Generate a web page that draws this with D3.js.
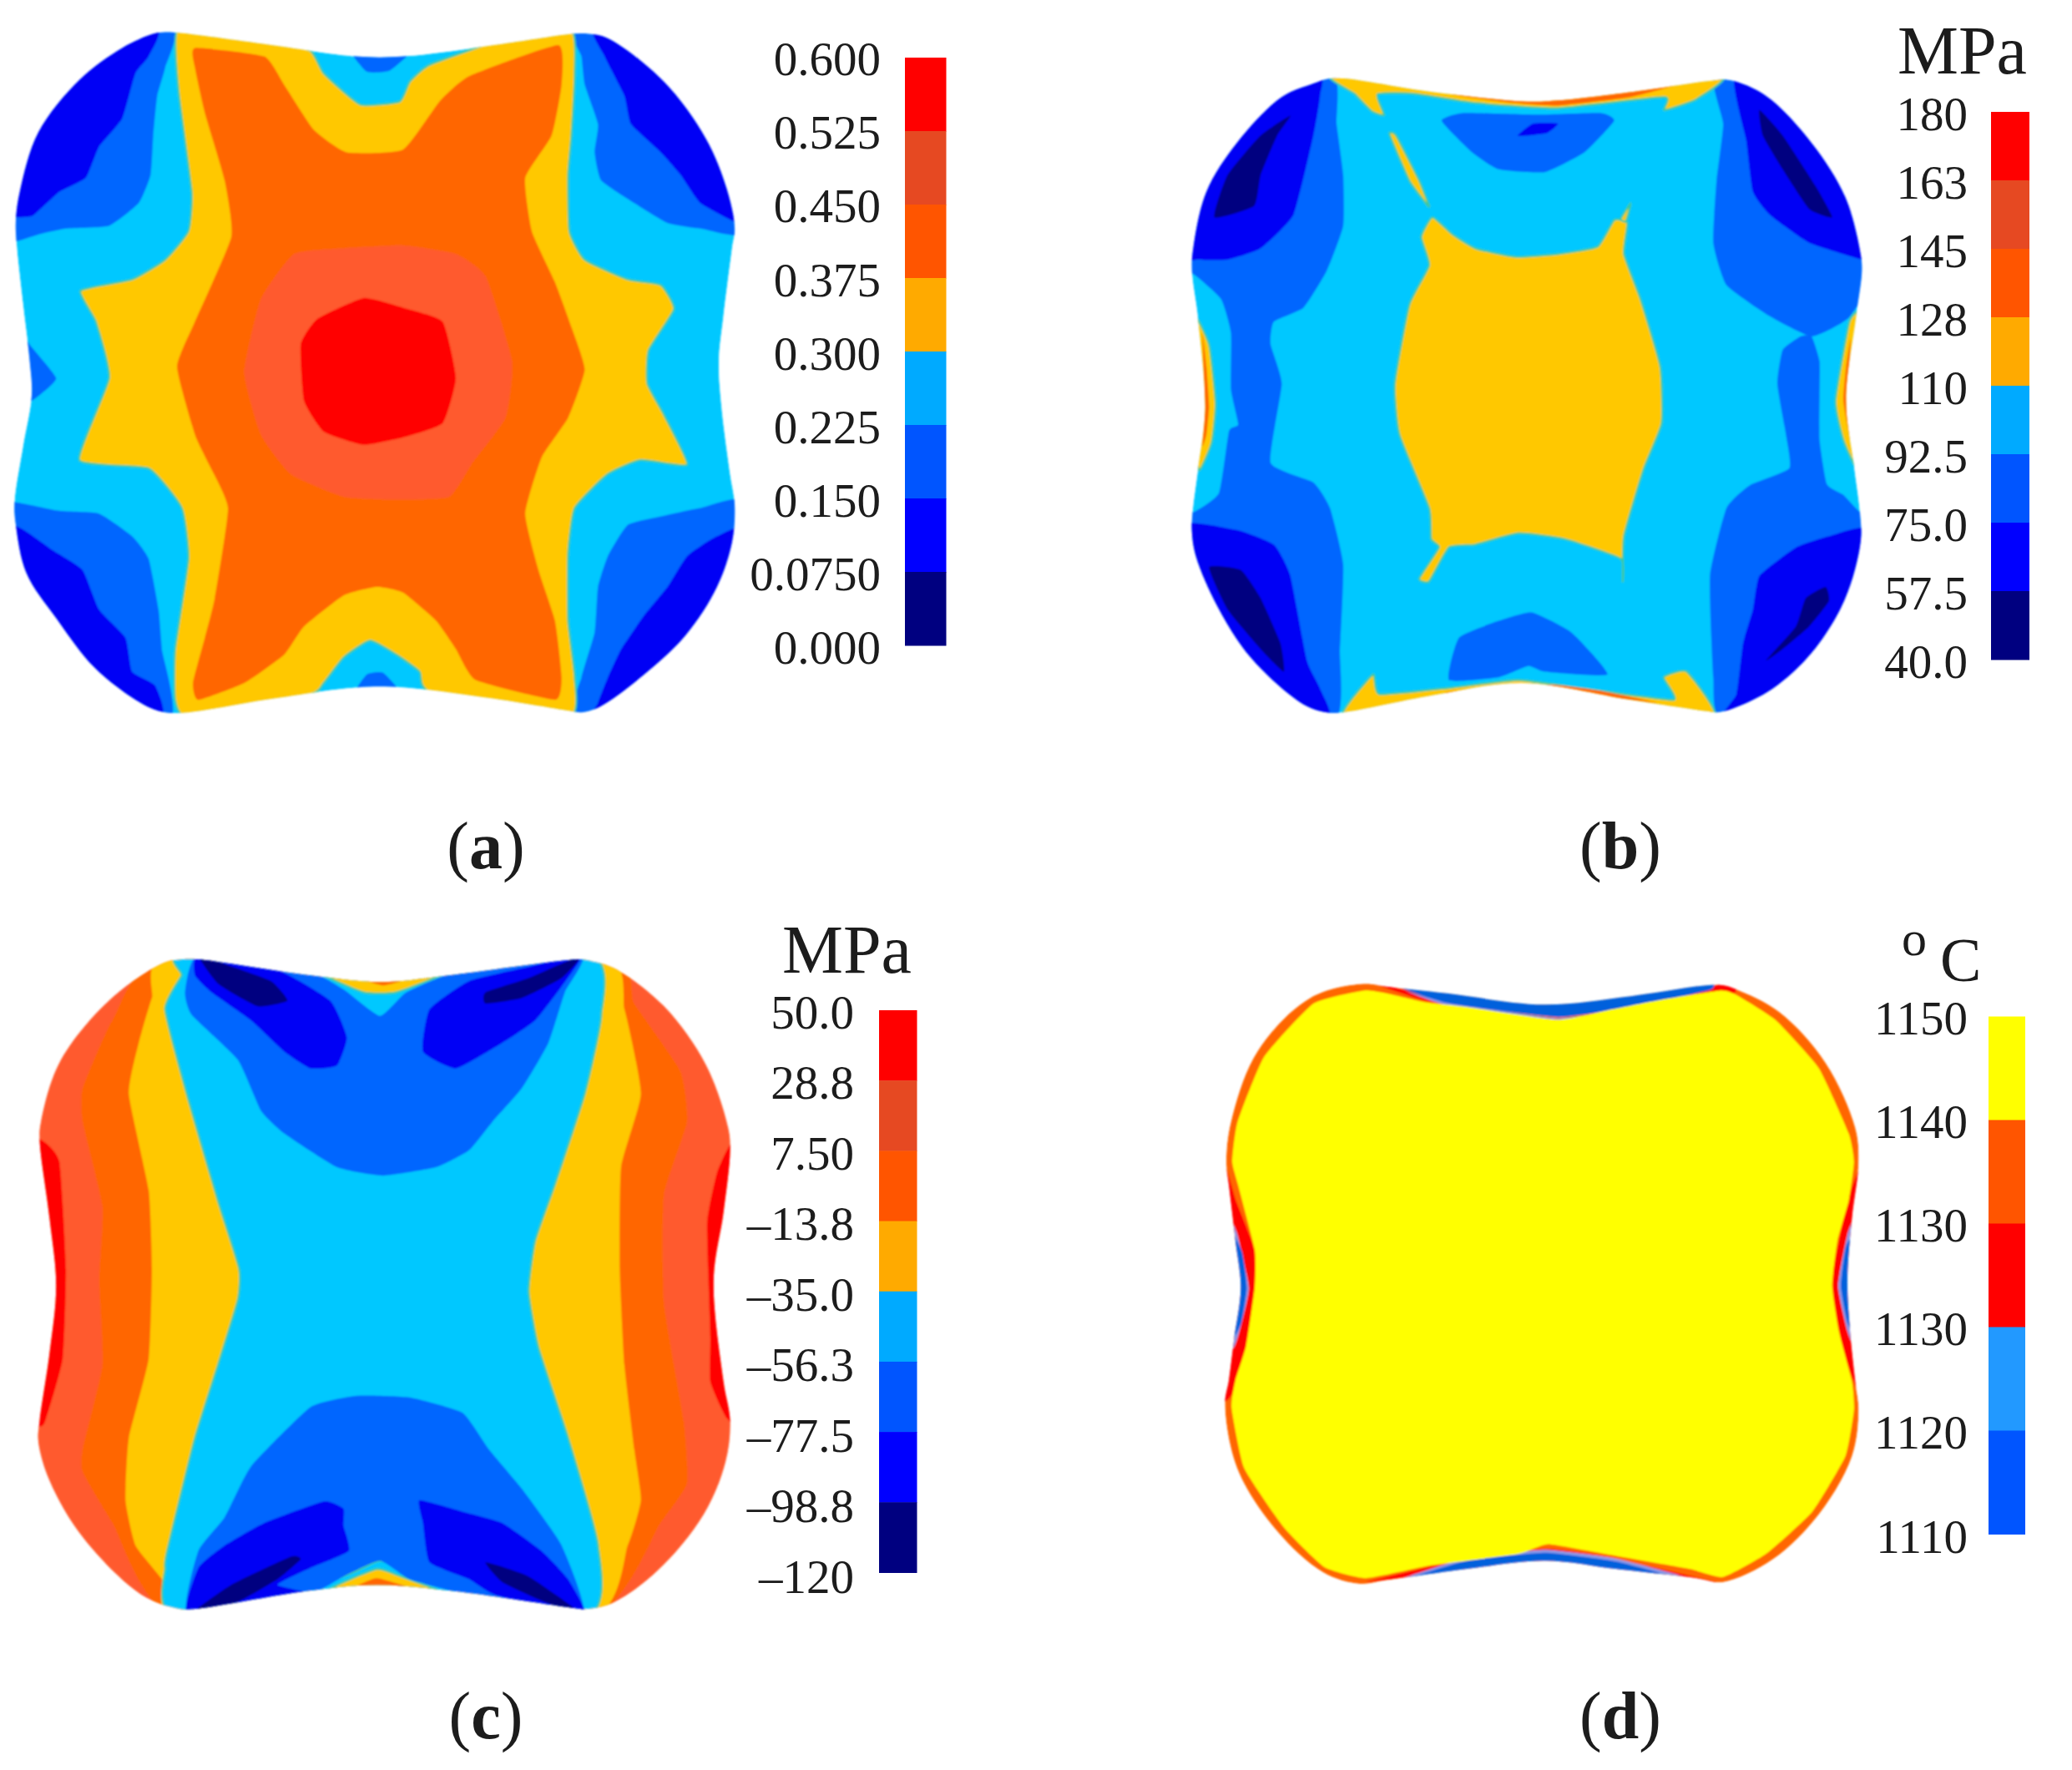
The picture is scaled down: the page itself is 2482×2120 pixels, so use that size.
<!DOCTYPE html>
<html><head><meta charset="utf-8">
<style>html,body{margin:0;background:#fff}svg{display:block}text{font-family:"Liberation Serif",serif;fill:#1c1c1c}</style>
<script src="https://cdn.jsdelivr.net/npm/d3@7"></script></head><body><script>
// ---- legend data
const ticksA=["0.600","0.525","0.450","0.375","0.300","0.225","0.150","0.0750","0.000"];
const ticksB=["180","163","145","128","110","92.5","75.0","57.5","40.0"];
const ticksC=["50.0","28.8","7.50","–13.8","–35.0","–56.3","–77.5","–98.8","–120"];
const ticksD=["1150","1140","1130","1130","1120","1110"];
const legendColours=["#FF0000","#E64A22","#FF5500","#FFAA00","#00AAFF","#0055FF","#0000FF","#000080"];
const legendColoursD=["#FFFF00","#FF5500","#FF0000","#2299FF","#0055FF"];
// ---- contour bands, by name
const Band={cyan:"#00C8FF",yellow:"#FFC800",orange:"#FF6600",light:"#FF5A2D",red:"#FF0000",mid:"#0066FF",deep:"#0000F5",navy:"#000080",bright:"#FFFF00",steel:"#0060DC",pale:"#8C9AE8"};

// ---- panel (a) mesh contours
const aOutline=[[250,57],[270,58],[400,78],[540,100],[610,100],[760,78],[868,60],[890,60],[920,68],[1005,145],[1068,245],[1100,335],[1112,405],[1108,440],[1095,560],[1088,640],[1092,720],[1105,840],[1112,895],[1108,960],[1085,1040],[1038,1125],[975,1195],[908,1252],[880,1262],[865,1260],[760,1240],[610,1218],[540,1218],[400,1240],[285,1262],[250,1262],[220,1250],[145,1185],[85,1095],[40,1015],[24,930],[22,890],[35,790],[48,700],[45,640],[35,540],[25,430],[24,390],[30,340],[58,235],[120,142],[185,85],[232,60]];
const aMidTL=[[-20,430],[24,428],[60,415],[100,405],[165,400],[210,360],[228,310],[232,240],[238,170],[250,120],[258,40],[-20,-20]];
const aDeepTL=[[-20,385],[25,385],[50,382],[90,340],[130,315],[150,260],[185,210],[205,130],[225,100],[235,40],[-20,-20]];
const aMidTR=[[870,40],[880,100],[885,150],[905,220],[900,270],[910,320],[960,360],[1010,395],[1060,405],[1140,405],[1140,40]];
const aDeepTR=[[900,40],[915,100],[945,170],[955,220],[1000,270],[1030,310],[1060,360],[1115,395],[1140,395],[1140,40]];
const aMidBR=[[1140,895],[1060,900],[1000,915],[950,930],[920,985],[905,1040],[900,1120],[880,1200],[872,1280],[1140,1280]];
const aDeepBR=[[1140,940],[1085,950],[1040,985],[1010,1040],[975,1090],[940,1150],[920,1200],[905,1245],[900,1280],[1140,1280]];
const aMidBL=[[-20,890],[25,890],[90,905],[150,910],[200,950],[225,990],[240,1080],[245,1150],[255,1280],[-20,1280]];
const aDeepBL=[[-20,930],[30,935],[80,975],[125,1010],[150,1080],[190,1130],[200,1190],[235,1215],[240,1280],[-20,1280]];
const aMidL=[[30,590],[48,615],[85,670],[60,700],[40,715],[20,700]];
const aMidTop=[[530,85],[555,127],[590,125],[625,85]];
const aMidBot=[[535,1235],[555,1195],[580,1192],[610,1235]];
const aYellow=[[270,50],[400,70],[470,90],[490,130],[545,185],[605,180],[620,145],[650,115],[760,70],[865,55],[870,130],[865,240],[860,310],[862,410],[885,460],[950,495],[1000,505],[1020,548],[982,620],[980,680],[1005,735],[1040,823],[970,815],[920,840],[870,900],[860,980],[860,1100],[870,1200],[862,1270],[650,1225],[635,1190],[600,1160],[560,1135],[520,1165],[490,1210],[470,1230],[285,1270],[265,1240],[265,1150],[285,990],[275,900],[225,830],[120,815],[165,670],[145,570],[122,515],[200,495],[250,460],[285,410],[290,340],[270,160]];
const aOrange=[[295,85],[400,100],[430,150],[475,230],[525,270],[610,265],[665,180],[710,135],[845,80],[850,150],[835,240],[795,315],[805,410],[840,500],[865,580],[885,655],[860,740],[820,810],[795,910],[815,1010],[840,1100],[850,1200],[840,1240],[720,1205],[690,1150],[660,1100],[610,1050],[570,1040],[520,1055],[460,1110],[430,1160],[370,1210],[300,1240],[292,1210],[310,1130],[325,1060],[345,900],[315,820],[295,770],[268,650],[295,570],[350,420],[340,320],[310,200],[295,120]];
const aLight=[[445,450],[520,440],[610,435],[690,450],[735,490],[775,640],[765,740],[715,820],[680,880],[600,885],[520,880],[440,840],[395,770],[370,660],[395,530]];
const aRed=[[550,528],[610,545],[670,570],[690,670],[670,750],[610,775],[550,788],[490,765],[460,710],[455,610],[480,565]];

// ---- panel (b) mesh contours
const bOutline=[[440,140],[465,139],[600,163],[744,180],[790,178],[920,160],[1022,143],[1050,142],[1105,170],[1175,255],[1225,350],[1248,450],[1250,480],[1241,562],[1226,710],[1239,833],[1247,907],[1248,960],[1224,1062],[1175,1155],[1115,1220],[1055,1255],[1030,1262],[1015,1260],[900,1240],[735,1210],[600,1232],[465,1262],[440,1262],[405,1248],[325,1165],[275,1075],[242,985],[236,942],[237,907],[245,833],[256,725],[245,562],[236,480],[238,440],[258,340],[305,252],[372,172],[420,148]];
const bMidL=[[445,120],[455,220],[465,310],[465,400],[440,480],[405,545],[360,570],[355,610],[372,680],[355,820],[420,855],[445,900],[465,1000],[460,1150],[450,1280],[200,1280],[200,910],[239,907],[277,873],[292,764],[306,752],[295,690],[295,590],[280,530],[237,485],[200,480],[200,120]];
const bDeepTL=[[425,120],[430,170],[420,240],[390,380],[340,440],[290,460],[245,460],[200,450],[200,120]];
const bNavyTL=[[385,205],[365,240],[340,310],[330,365],[270,385],[290,310],[340,240]];
const bDeepBL=[[200,938],[300,938],[360,965],[385,1020],[410,1170],[430,1220],[440,1280],[200,1280]];
const bNavyBL=[[262,1005],[310,1010],[340,1060],[370,1140],[375,1190],[340,1150],[290,1080]];
const bMidTR=[[1030,120],[1040,220],[1030,320],[1025,430],[1045,505],[1110,560],[1174,596],[1231,562],[1270,470],[1270,120]];
const bMidBR=[[1157,596],[1130,620],[1122,680],[1135,770],[1140,830],[1080,860],[1045,900],[1020,1020],[1025,1200],[1040,1280],[1270,1280],[1270,907],[1247,907],[1222,877],[1197,858],[1186,780],[1186,700],[1186,640],[1174,596]];
const bDeepTR=[[1060,120],[1075,250],[1085,340],[1110,380],[1170,430],[1250,460],[1270,460],[1270,120]];
const bNavyTR=[[1095,195],[1130,240],[1180,330],[1205,385],[1170,370],[1130,300],[1100,240]];
const bDeepBR=[[1270,945],[1200,950],[1150,970],[1095,1020],[1085,1080],[1070,1140],[1060,1230],[1040,1280],[1270,1280]];
const bNavyBR=[[1195,1040],[1165,1060],[1150,1110],[1105,1170],[1130,1150],[1170,1110],[1200,1065]];
const bMidTop=[[614,214],[647,200],[760,203],[854,200],[875,214],[830,270],[770,305],[700,300],[660,270]];
const bDeepTop=[[729,241],[752,219],[790,219],[773,236]];
const bMidBot=[[625,1205],[640,1130],[700,1100],[750,1085],[810,1120],[865,1195],[770,1190],[745,1180],[700,1200]];
const bCentre=[[600,385],[630,415],[665,440],[725,455],[790,450],[850,437],[875,390],[895,395],[890,450],[915,530],[945,650],[947,750],[920,830],[890,950],[888,1030],[885,990],[800,955],[730,945],[665,965],[625,970],[595,1030],[580,1025],[610,970],[598,955],[595,900],[550,770],[543,680],[565,540],[595,470],[583,420]];
const bWedge=[[535,238],[545,240],[580,320],[595,365],[590,360],[565,320]];
const bSpur=[[885,388],[900,360],[893,392]];
const bStripTop=[[455,125],[483,167],[508,197],[527,204],[517,167],[571,166],[660,182],[786,192],[951,172],[951,195],[1001,175],[1030,125]];
const bSliverTop=[[597,158],[680,172],[744,178],[850,168],[976,148],[900,172],[790,187],[720,182],[640,170]];
const bStripBot=[[465,1275],[510,1195],[520,1230],[630,1218],[730,1205],[830,1220],[965,1240],[950,1200],[985,1190],[1025,1275],[735,1225]];
const bSliverBot=[[620,1228],[690,1215],[735,1210],[690,1222],[780,1213],[860,1225],[940,1245],[860,1235]];
const bStripL=[[235,553],[262,611],[272,715],[266,784],[247,833],[235,760]];
const bSliverL=[[252,590],[258,650],[262,720],[258,770],[252,790],[256,720]];
const bStripR=[[1250,553],[1231,570],[1210,710],[1222,780],[1245,833],[1255,710]];
const bSliverR=[[1233,600],[1226,650],[1222,710],[1232,780],[1228,710]];

// ---- panel (c) mesh contours
const cOutline=[[275,132],[300,132],[470,160],[580,172],[680,160],[880,132],[895,135],[930,148],[1005,215],[1068,318],[1102,430],[1105,470],[1095,580],[1080,700],[1095,880],[1105,950],[1098,1022],[1065,1115],[995,1215],[925,1273],[885,1283],[875,1282],[680,1250],[570,1240],[470,1250],[290,1283],[270,1282],[215,1258],[125,1155],[75,1055],[58,985],[60,950],[75,830],[85,710],[75,590],[60,450],[62,420],[90,315],[165,205],[248,138]];
const cBase=[[-20,100],[1140,100],[1140,1300],[-20,1300]];
const cRedL=[[-20,440],[60,450],[90,490],[100,680],[95,840],[70,945],[60,960],[-20,960]];
const cRedR=[[1130,455],[1105,460],[1085,510],[1070,600],[1075,800],[1075,880],[1100,945],[1130,950]];
const cOrange=[[258,120],[170,240],[125,360],[125,420],[155,570],[150,700],[155,850],[125,1000],[125,1040],[170,1130],[270,1300],[890,1300],[1000,1130],[1040,1060],[1035,950],[1005,740],[1005,550],[1040,420],[1030,330],[960,210],[915,120]];
const cYellow=[[262,120],[230,200],[210,280],[195,370],[225,540],[230,680],[225,840],[195,980],[190,1090],[205,1170],[245,1230],[275,1300],[890,1300],[950,1170],[970,1090],[960,1000],[945,850],[938,680],[940,500],[970,370],[945,220],[905,120]];
const cCyan=[[285,120],[275,160],[250,220],[285,380],[330,560],[362,680],[360,735],[330,850],[295,980],[255,1170],[250,1210],[275,1300],[880,1300],[905,1170],[860,980],[815,820],[800,720],[810,630],[840,530],[885,370],[910,230],[885,120]];
const cYellowTop=[[480,150],[550,190],[600,190],[680,150]];
const cRedTop=[[545,165],[580,178],[620,165]];
const cYellowBot=[[500,1250],[570,1212],[600,1222],[680,1260]];
const cOrangeBot=[[530,1250],[570,1228],[630,1250]];
const cCyanBot=[[470,1255],[540,1215],[575,1197],[620,1215],[690,1258]];
const cMidTop=[[300,125],[470,155],[520,185],[575,232],[615,190],[690,155],[880,125],[855,190],[830,280],[790,360],[745,420],[710,470],[660,500],[580,515],[510,500],[430,440],[395,400],[360,310],[290,230],[280,190]];
const cDeepTL=[[300,125],[420,150],[500,205],[525,270],[510,320],[470,325],[430,295],[380,240],[320,190],[295,160]];
const cNavyTL=[[300,125],[340,140],[410,170],[435,205],[390,215],[330,175]];
const cDeepTR=[[880,125],[850,180],[810,240],[760,280],[690,325],[640,295],[650,220],[710,170],[800,145]];
const cNavyTR=[[880,125],[800,165],[735,190],[735,210],[790,200],[850,165]];
const cMidBot=[[285,1295],[300,1180],[340,1120],[380,1030],[470,925],[540,905],[620,908],[700,935],[740,1000],[790,1070],[850,1170],[882,1295],[700,1255],[620,1230],[575,1197],[520,1225],[470,1255]];
const cDeepBL=[[285,1295],[300,1210],[340,1170],[400,1130],[490,1092],[520,1105],[520,1135],[528,1180],[470,1210],[420,1240],[470,1258]];
const cNavyBL=[[285,1295],[350,1240],[440,1190],[455,1195],[420,1230],[360,1270]];
const cDeepBR=[[885,1295],[860,1230],[820,1180],[760,1130],[700,1110],[635,1090],[640,1130],[650,1200],[710,1230],[750,1258]];
const cNavyBR=[[885,1295],[800,1225],[735,1200],[760,1235],[820,1268]];

// ---- panel (d) mesh contours
const dOutline=[[496,175],[530,180],[622,192],[769,212],[900,197],[1035,177],[1060,185],[1125,225],[1195,315],[1240,430],[1245,490],[1235,590],[1228,700],[1232,790],[1240,880],[1245,930],[1235,1012],[1185,1115],[1115,1195],[1040,1235],[1000,1228],[880,1212],[770,1197],[650,1212],[530,1232],[490,1238],[435,1218],[365,1145],[305,1035],[286,921],[292,877],[300,803],[310,714],[302,631],[292,532],[288,490],[295,420],[335,295],[415,200]];
const dRedTop=[[500,170],[590,195],[790,240],[960,205],[1050,170],[1050,195],[790,245],[590,205]];
const dRedBot=[[500,1235],[610,1205],[770,1176],[860,1190],[1030,1235],[860,1212],[770,1198],[610,1218]];
const dRedL=[[280,490],[303,560],[331,646],[331,714],[318,817],[298,900],[280,900]];
const dRedR=[[1250,490],[1228,560],[1207,680],[1207,730],[1222,830],[1245,900],[1260,900],[1260,490]];
const dPaleTop=[[560,188],[622,207],[790,236],[900,218],[1000,190],[900,223],[790,239],[622,213]];
const dBlueTop=[[530,172],[622,185],[769,205],[900,190],[1020,170],[1020,186],[900,216],[790,234],[622,209]];
const dPaleBot=[[540,1235],[650,1193],[770,1178],[880,1194],[1000,1232],[880,1214],[770,1196],[650,1212]];
const dBlueBot=[[530,1242],[650,1198],[770,1183],[880,1199],[1000,1238],[880,1225],[770,1208],[650,1225]];
const dPaleL=[[292,590],[305,620],[322,714],[308,790],[298,820],[290,714]];
const dBlueL=[[292,610],[312,650],[319,714],[311,775],[296,805],[285,714]];
const dPaleR=[[1240,590],[1228,620],[1214,710],[1228,790],[1240,820],[1250,710]];
const dBlueR=[[1245,610],[1226,640],[1218,710],[1228,775],[1245,805],[1255,710]];
const dYellow=[[496,187],[530,192],[590,208],[656,217],[790,239],[866,222],[940,205],[1035,187],[1060,195],[1120,240],[1185,325],[1230,440],[1238,490],[1230,560],[1213,630],[1205,710],[1215,790],[1235,880],[1238,930],[1225,1012],[1175,1110],[1105,1185],[1040,1226],[990,1212],[860,1185],[775,1168],[730,1185],[600,1205],[500,1228],[436,1208],[375,1138],[315,1033],[296,926],[302,877],[318,817],[331,714],[331,646],[306,532],[297,490],[305,420],[345,305],[420,210]];

// ---- layer order per panel: [polygon, band, outlined?]
const panels=[
 {ox:0,oy:0,outline:aOutline,base:"cyan",layers:[[aMidTL,"mid"],[aDeepTL,"deep"],[aMidTR,"mid"],[aDeepTR,"deep"],[aMidBR,"mid"],[aDeepBR,"deep"],[aMidBL,"mid"],[aDeepBL,"deep"],[aMidL,"mid"],[aMidTop,"mid"],[aMidBot,"mid"],[aYellow,"yellow",1],[aOrange,"orange"],[aLight,"light"],[aRed,"red"]]},
 {ox:1241,oy:0,outline:bOutline,base:"cyan",layers:[[bMidL,"mid"],[bDeepTL,"deep"],[bNavyTL,"navy"],[bDeepBL,"deep"],[bNavyBL,"navy"],[bMidTR,"mid"],[bMidBR,"mid"],[bDeepTR,"deep"],[bNavyTR,"navy"],[bDeepBR,"deep"],[bNavyBR,"navy"],[bMidTop,"mid"],[bDeepTop,"deep"],[bMidBot,"mid"],[bCentre,"yellow",1],[bWedge,"yellow",1],[bSpur,"yellow",1],[bStripTop,"yellow",1],[bSliverTop,"orange"],[bStripBot,"yellow",1],[bSliverBot,"orange"],[bStripL,"yellow",1],[bSliverL,"orange"],[bStripR,"yellow",1],[bSliverR,"orange"]]},
 {ox:0,oy:1060,outline:cOutline,base:"light",layers:[[cBase,"light"],[cRedL,"red"],[cRedR,"red"],[cOrange,"orange"],[cYellow,"yellow"],[cCyan,"cyan",1],[cYellowTop,"yellow",1],[cRedTop,"orange"],[cCyanBot,"cyan",1],[cYellowBot,"yellow",1],[cOrangeBot,"orange"],[cMidTop,"mid"],[cDeepTL,"deep"],[cNavyTL,"navy"],[cDeepTR,"deep"],[cNavyTR,"navy"],[cMidBot,"mid"],[cDeepBL,"deep"],[cNavyBL,"navy"],[cDeepBR,"deep"],[cNavyBR,"navy"]]},
 {ox:1241,oy:1060,outline:dOutline,base:"orange",layers:[[dRedTop,"red"],[dRedBot,"red"],[dRedL,"red"],[dRedR,"red"],[dPaleTop,"pale"],[dBlueTop,"steel"],[dPaleBot,"pale"],[dBlueBot,"steel"],[dPaleL,"pale"],[dBlueL,"steel"],[dPaleR,"pale"],[dBlueR,"steel"],[dYellow,"bright"]]}
];
const legends=[
 {ticks:ticksA,colours:legendColours,bar:[1084,1133.5,69,773],tick:[72.5,777.5],right:1055},
 {ticks:ticksB,colours:legendColours,bar:[2385,2431,134,790],tick:[138.5,794.5],right:2357},
 {ticks:ticksC,colours:legendColours,bar:[1053,1098.5,1210,1883.5],tick:[1214,1890],right:1023},
 {ticks:ticksD,colours:legendColoursD,bar:[2382,2426,1217.5,1837.5],tick:[1221,1842],right:2357}
];
const captions=[["a",582,1040],["b",1941,1040],["c",582,2082],["d",1941,2082]];

const W=2482,H=2120,meshSize=1568,cellW=1241,cellH=1060;
const svg=d3.select("body").append("svg").attr("width",W).attr("height",H).attr("viewBox",[0,0,W,H]);
const defs=svg.append("defs");
defs.append("filter").attr("id","soft").append("feGaussianBlur").attr("stdDeviation",1);
defs.append("filter").attr("id","softer").append("feGaussianBlur").attr("stdDeviation",0.5);

panels.forEach((p,i)=>{
  const x=d3.scaleLinear().domain([0,meshSize]).range([p.ox,p.ox+cellW]);
  const y=d3.scaleLinear().domain([0,meshSize]).range([p.oy,p.oy+cellH]);
  const rim=d3.line().x(d=>x(d[0])).y(d=>y(d[1])).curve(d3.curveCatmullRomClosed.alpha(0.5));
  const band=d3.line().x(d=>x(d[0])).y(d=>y(d[1])).curve(d3.curveCardinalClosed.tension(0.55));
  defs.append("clipPath").attr("id","clip"+i).append("path").attr("d",rim(p.outline));
  const g=svg.append("g").attr("filter","url(#soft)").append("g").attr("clip-path",`url(#clip${i})`);
  g.append("path").attr("d",rim(p.outline)).attr("fill",Band[p.base]);
  g.selectAll("path.band").data(p.layers).join("path").attr("class","band")
    .attr("d",d=>band(d[0])).attr("fill",d=>Band[d[1]])
    .attr("stroke",d=>d[2]?"#3CC8A0":"none").attr("stroke-width",d=>d[2]?2.5:0);
});

legends.forEach(l=>{
  const g=svg.append("g").attr("filter","url(#softer)");
  const band=d3.scaleBand().domain(d3.range(l.colours.length)).range([l.bar[2],l.bar[3]]);
  g.selectAll("rect").data(l.colours).join("rect")
    .attr("x",l.bar[0]).attr("width",l.bar[1]-l.bar[0])
    .attr("y",(d,i)=>band(i)).attr("height",band.bandwidth()+0.5).attr("fill",d=>d);
  const ty=d3.scalePoint().domain(d3.range(l.ticks.length)).range(l.tick);
  g.selectAll("text").data(l.ticks).join("text")
    .attr("x",l.right).attr("y",(d,i)=>ty(i)).attr("dy","0.31em")
    .attr("text-anchor","end").attr("font-size",57).text(d=>d);
});
const units=svg.append("g").attr("filter","url(#softer)");
units.append("text").attr("x",2428).attr("y",88).attr("text-anchor","end").attr("font-size",82).text("MPa");
units.append("text").attr("x",1092).attr("y",1165).attr("text-anchor","end").attr("font-size",82).text("MPa");
units.append("text").attr("x",2278).attr("y",1144).attr("font-size",60).text("o");
units.append("text").attr("x",2324).attr("y",1175).attr("font-size",74).text("C");

const capG=svg.append("g").attr("filter","url(#softer)");
captions.forEach(c=>{
  const t=capG.append("text").attr("x",c[1]).attr("y",c[2]).attr("text-anchor","middle").attr("font-size",80);
  t.append("tspan").text("(");
  t.append("tspan").attr("font-weight","bold").text(c[0]);
  t.append("tspan").text(")");
});
</script></body></html>
